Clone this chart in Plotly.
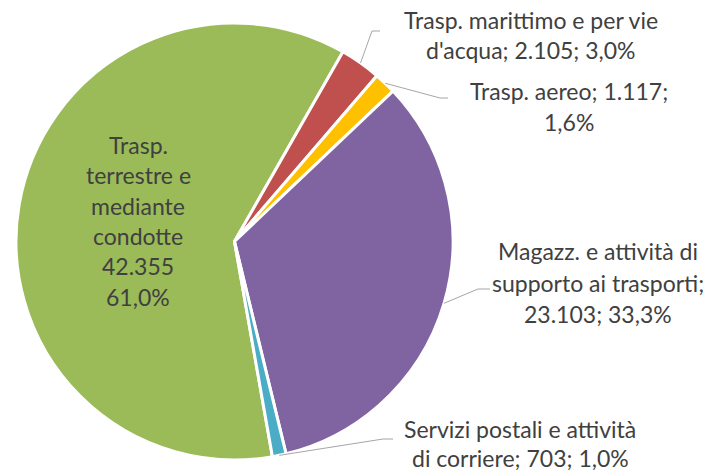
import math
import plotly.graph_objects as go

# ---- data ----
categories = [
    "Trasp. terrestre e mediante condotte",
    "Trasp. marittimo e per vie d'acqua",
    "Trasp. aereo",
    "Magazz. e attività di supporto ai trasporti",
    "Servizi postali e attività di corriere",
]
values = [42355, 2105, 1117, 23103, 703]
colors = ["#9BBB59", "#C0504D", "#FFC000", "#8064A2", "#4BACC6"]
label_templates = [
    "Trasp.|terrestre e|mediante|condotte|{v}|{p}",
    "Trasp. marittimo e per vie|d'acqua; {v}; {p}",
    "Trasp. aereo; {v};|{p}",
    "Magazz. e attività di|supporto ai trasporti;|{v}; {p}",
    "Servizi postali e attività|di corriere; {v}; {p}",
]

# ---- layout constants (pixels) ----
W, H = 710, 474
CX, CY, R = 234.5, 241.5, 218.5
ROTATION = 170
# label centre x, first-line centre y, line spacing
label_pos = [(138, 145, 30.3), (531, 20, 30), (569, 91, 31), (598, 251, 31.5), (520, 429, 29)]
# leader elbow and end points (None = no leader)
leader_pts = [None, [(372, 31), (380, 31)], [(440, 98), (448, 98)],
              [(478, 289), (490, 289)], [(383, 439), (393, 439)]]

FONT = "Lato"
FS = 23
TXT = "#404040"


def px(x, y):
    return x / W, 1 - y / H


def fmt_int(v):
    return f"{v:,}".replace(",", ".")


def fmt_pct(p):
    return f"{p:.1f}".replace(".", ",") + "%"


total = sum(values)

fig = go.Figure(go.Pie(
    labels=categories,
    values=values,
    sort=False,
    direction="clockwise",
    rotation=ROTATION,
    marker=dict(colors=colors, line=dict(color="white", width=3)),
    textinfo="none",
    hoverinfo="label+value+percent",
    showlegend=False,
    domain=dict(x=[(CX - R) / W, (CX + R) / W], y=[1 - (CY + R) / H, 1 - (CY - R) / H]),
))

annotations = []
shapes = []
cum = 0
for i, (cat, v) in enumerate(zip(categories, values)):
    pct = 100 * v / total
    text = label_templates[i].format(v=fmt_int(v), p=fmt_pct(pct))
    lx, ly, sp = label_pos[i]
    for j, line in enumerate(text.split("|")):
        xx, yy = px(lx, ly + j * sp)
        annotations.append(dict(x=xx, y=yy, xref="paper", yref="paper", text=line,
                                showarrow=False, xanchor="center", yanchor="middle",
                                font=dict(family=FONT, size=FS, color=TXT)))
    mid = math.radians(ROTATION + 360 * (cum + v / 2) / total)
    cum += v
    if leader_pts[i]:
        sx = CX + R * math.sin(mid)
        sy = CY - R * math.cos(mid)
        pts = [(sx, sy)] + leader_pts[i]
        path = "M " + " L ".join(f"{px(a, b)[0]},{px(a, b)[1]}" for a, b in pts)
        shapes.append(dict(type="path", xref="paper", yref="paper", path=path,
                           line=dict(color="#A6A6A6", width=1)))

fig.update_layout(
    width=W, height=H,
    margin=dict(l=0, r=0, t=0, b=0),
    paper_bgcolor="white", plot_bgcolor="white",
    annotations=annotations, shapes=shapes,
)
fig.write_html("out.html", config={"displayModeBar": False},
               post_script="document.body.style.margin='0px';document.body.style.padding='0px';")
